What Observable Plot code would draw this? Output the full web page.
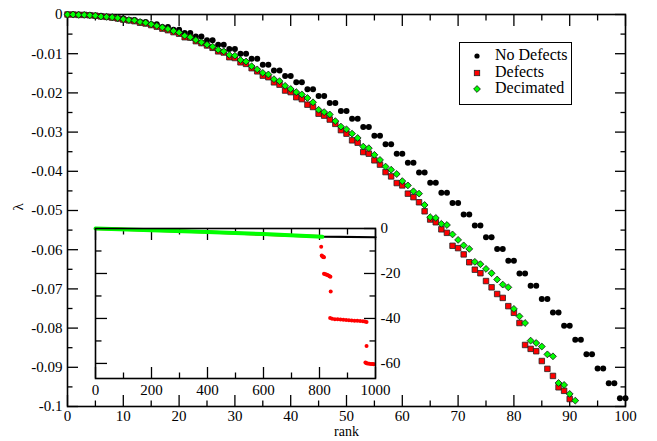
<!DOCTYPE html>
<html><head><meta charset="utf-8">
<script src="https://cdn.jsdelivr.net/npm/d3@7"></script>
<script src="https://cdn.jsdelivr.net/npm/@observablehq/plot@0.6"></script>
<style>
html,body{margin:0;padding:0;background:#fff;}
#wrap{position:relative;width:657px;height:441px;font-family:"Liberation Serif","DejaVu Serif","Times New Roman",serif;}
#main{position:absolute;left:0;top:0;}
#inset{position:absolute;left:80px;top:213px;}
#legend{position:absolute;left:459px;top:42px;width:113px;height:63px;border:1.2px solid #000;background:#fff;box-sizing:border-box;}
.lrow{position:absolute;left:0;height:16px;line-height:16px;font-size:16px;white-space:nowrap;}
.lrow svg{position:absolute;left:11px;top:3px;}
.lrow span{position:absolute;left:35px;top:0;}
svg text{font-family:"Liberation Serif","DejaVu Serif","Times New Roman",serif !important;}
</style></head><body>
<div id="wrap"><div id="main"></div><div id="inset"></div><div id="legend"></div></div>
<script>
// ---------- main chart data (rank starts at 0) ----------
const noDefects = [0,
  0, 0, -0.0001, -0.0001, -0.0003, -0.0003, -0.0006, -0.0006, -0.0010, -0.0010,
  -0.0014, -0.0014, -0.0019, -0.0019, -0.0025, -0.0025, -0.0032, -0.0032, -0.0039, -0.0039,
  -0.0047, -0.0047, -0.0056, -0.0056, -0.0066, -0.0066, -0.0077, -0.0077, -0.0088, -0.0088,
  -0.0100, -0.0100, -0.0113, -0.0113, -0.0128, -0.0128, -0.0143, -0.0143, -0.0157, -0.0157,
  -0.0173, -0.0173, -0.0191, -0.0191, -0.0208, -0.0208, -0.0226, -0.0226, -0.0246, -0.0246,
  -0.0266, -0.0266, -0.0287, -0.0287, -0.0309, -0.0309, -0.0331, -0.0331, -0.0355, -0.0355,
  -0.0378, -0.0378, -0.0403, -0.0403, -0.0429, -0.0429, -0.0455, -0.0455, -0.0481, -0.0481,
  -0.0510, -0.0510, -0.0538, -0.0538, -0.0568, -0.0568, -0.0598, -0.0598, -0.0628, -0.0628,
  -0.0661, -0.0661, -0.0692, -0.0692, -0.0726, -0.0726, -0.0760, -0.0760, -0.0794, -0.0794,
  -0.0830, -0.0830, -0.0867, -0.0867, -0.0903, -0.0903, -0.0941, -0.0941, -0.0979, -0.0979];

const defects = [0,
  0, -0.0001, -0.0001, -0.0002, -0.0003, -0.0005, -0.0006, -0.0008, -0.0010, -0.0013,
  -0.0015, -0.0017, -0.0021, -0.0023, -0.0027, -0.0031, -0.0036, -0.0040, -0.0045, -0.0049,
  -0.0058, -0.0059, -0.0068, -0.0073, -0.0079, -0.0085, -0.0094, -0.0097, -0.0109, -0.0111,
  -0.0122, -0.0126, -0.0137, -0.0145, -0.0156, -0.0160, -0.0173, -0.0179, -0.0194, -0.0198,
  -0.0211, -0.0216, -0.0230, -0.0236, -0.0253, -0.0258, -0.0268, -0.0279, -0.0295, -0.0304,
  -0.0321, -0.0327, -0.0351, -0.0355, -0.0372, -0.0383, -0.0402, -0.0413, -0.0430, -0.0436,
  -0.0457, -0.0466, -0.0479, -0.0502, -0.0523, -0.0530, -0.0548, -0.0557, -0.0590, -0.0596,
  -0.0612, -0.0632, -0.0651, -0.0660, -0.0680, -0.0696, -0.0713, -0.0723, -0.0744, -0.0761,
  -0.0787, -0.0843, -0.0853, -0.0859, -0.0884, -0.0904, -0.0922, -0.0951, -0.0960, -0.0981];

const decimated = [0,
  0, -0.0001, -0.0001, -0.0002, -0.0003, -0.0005, -0.0006, -0.0007, -0.0009, -0.0012,
  -0.0014, -0.0015, -0.0019, -0.0021, -0.0025, -0.0029, -0.0033, -0.0037, -0.0042, -0.0046,
  -0.0054, -0.0058, -0.0065, -0.0071, -0.0077, -0.0082, -0.0090, -0.0094, -0.0103, -0.0105,
  -0.0116, -0.0120, -0.0132, -0.0140, -0.0149, -0.0153, -0.0165, -0.0170, -0.0182, -0.0190,
  -0.0198, -0.0204, -0.0213, -0.0224, -0.0243, -0.0249, -0.0255, -0.0272, -0.0286, -0.0293,
  -0.0304, -0.0315, -0.0337, -0.0341, -0.0358, -0.0371, -0.0388, -0.0396, -0.0407, -0.0425,
  -0.0436, -0.0451, -0.0457, -0.0486, -0.0517, -0.0519, -0.0534, -0.0537, -0.0561, -0.0575,
  -0.0589, -0.0598, -0.0631, -0.0637, -0.0649, -0.0660, -0.0676, -0.0689, -0.0696, -0.0751,
  -0.0770, -0.0787, -0.0832, -0.0838, -0.0847, -0.0867, -0.0872, -0.0940, -0.0945, -0.0968,
  -0.0985];

// ---------- main chart ticks ----------
const xMajor = [0, 10, 20, 30, 40, 50, 60, 70, 80, 90, 100];
const xTickLabels = ["0", "10", "20", "30", "40", "50", "60", "70", "80", "90", "100"];
const xMinor = [5, 15, 25, 35, 45, 55, 65, 75, 85, 95];
const yMajor = [0, -0.01, -0.02, -0.03, -0.04, -0.05, -0.06, -0.07, -0.08, -0.09, -0.1];
const yTickLabels = ["0", "-0.01", "-0.02", "-0.03", "-0.04", "-0.05", "-0.06", "-0.07", "-0.08", "-0.09", "-0.1"];
const yMinor = [-0.005, -0.015, -0.025, -0.035, -0.045, -0.055, -0.065, -0.075, -0.085, -0.095];

// ---------- inset data (rank 0..1000) ----------
const insetNoDefRank = [0, 400, 810, 1000];
const insetNoDefVal = [0, -1.5, -3.6, -3.9];
const insetDefLineRank = [0, 400, 800];
const insetDefLineVal = [0, -1.6, -3.6];
const insetDefPtRank = [806, 808, 810, 812, 814, 816,
  816, 820, 824, 828, 832, 836, 839,
  840,
  838, 845, 855, 865, 875, 885, 895, 905, 915, 925, 935, 945, 955, 962, 968,
  968,
  964, 968, 972, 978, 984, 990, 994];
const insetDefPtVal = [-8.1, -12.0, -12.3, -12.6, -12.7, -12.8,
  -20.1, -20.3, -20.5, -20.7, -20.9, -21.2, -21.5,
  -28.0,
  -39.8, -40.1, -40.3, -40.4, -40.5, -40.6, -40.7, -40.8, -40.9, -41.0, -41.0, -41.1, -41.2, -41.4, -41.6,
  -52.3,
  -59.6, -59.9, -60.0, -60.1, -60.2, -60.3, -60.4];
const insetDecRank = [0, 200, 400, 600, 810];
const insetDecVal = [0, -0.8, -1.6, -2.5, -3.7];

const insetXMajor = [0, 200, 400, 600, 800, 1000];
const insetXLabels = ["0", "200", "400", "600", "800", "1000"];
const insetXMinor = [100, 300, 500, 700, 900];
const insetYMajor = [0, -20, -40, -60];
const insetYLabels = ["0", "-20", "-40", "-60"];
const insetYMinor = [-10, -30, -50];

// ---------- legend ----------
const seriesNames = ["No Defects", "Defects", "Decimated"];
const seriesFill = ["#000000", "#ff0000", "#00ff00"];

const serif = '"Liberation Serif", "DejaVu Serif", "Times New Roman", serif';
const toRows = (vals) => vals.map((v, i) => ({rank: i, value: v}));
const pair = (xs, ys) => xs.map((x, i) => ({x, y: ys[i]}));
const lab = (vals, labels) => (d) => labels[vals.indexOf(d)];
const blank = () => "";

const TW = 1.3;
const mainPlot = Plot.plot({
  width: 657, height: 441,
  marginLeft: 67, marginRight: 32, marginTop: 14, marginBottom: 35,
  style: {fontFamily: serif, fontSize: "15px", background: "transparent", overflow: "visible", color: "black"},
  x: {domain: [0, 100]},
  y: {domain: [-0.1, 0]},
  marks: [
    Plot.axisX({anchor: "bottom", ticks: xMajor, tickSize: -11, tickPadding: 15, tickFormat: lab(xMajor, xTickLabels), label: null, strokeWidth: TW, fontSize: 15}),
    Plot.axisX({anchor: "bottom", ticks: xMinor, tickSize: -5.5, tickFormat: blank, label: null, strokeWidth: TW}),
    Plot.axisX({anchor: "top", ticks: xMajor, tickSize: -11, tickFormat: blank, label: null, strokeWidth: TW}),
    Plot.axisX({anchor: "top", ticks: xMinor, tickSize: -5.5, tickFormat: blank, label: null, strokeWidth: TW}),
    Plot.axisY({anchor: "left", ticks: yMajor, tickSize: -11, tickPadding: 16, tickFormat: lab(yMajor, yTickLabels), label: null, strokeWidth: TW, fontSize: 15}),
    Plot.axisY({anchor: "left", ticks: yMinor, tickSize: -5.5, tickFormat: blank, label: null, strokeWidth: TW}),
    Plot.axisY({anchor: "right", ticks: yMajor, tickSize: -11, tickFormat: blank, label: null, strokeWidth: TW}),
    Plot.axisY({anchor: "right", ticks: yMinor, tickSize: -5.5, tickFormat: blank, label: null, strokeWidth: TW}),
    Plot.frame({stroke: "black", strokeWidth: 1.6}),
    Plot.dot(toRows(noDefects), {x: "rank", y: "value", r: 3, fill: seriesFill[0]}),
    Plot.dot(toRows(defects), {x: "rank", y: "value", symbol: "square", r: 3.1, fill: seriesFill[1], stroke: "#222", strokeWidth: 0.8}),
    Plot.dot(toRows(decimated), {x: "rank", y: "value", symbol: "diamond2", r: 3.1, fill: seriesFill[2], stroke: "#111", strokeWidth: 0.8}),
    Plot.text(["rank"], {frameAnchor: "bottom", dy: 29, text: d => d, fontSize: 14}),
    Plot.text(["λ"], {frameAnchor: "left", dx: -49, rotate: -90, text: d => d, fontSize: 15})
  ]
});
document.getElementById("main").appendChild(mainPlot);

const insetPlot = Plot.plot({
  width: 330, height: 190,
  marginLeft: 15, marginRight: 35, marginTop: 15, marginBottom: 25,
  style: {fontFamily: serif, fontSize: "15px", background: "transparent", overflow: "visible", color: "black"},
  x: {domain: [0, 1000]},
  y: {domain: [-66.7, 0]},
  marks: [
    Plot.frame({fill: "white"}),
    Plot.axisX({anchor: "bottom", ticks: insetXMajor, tickSize: -11, tickPadding: 17, tickFormat: lab(insetXMajor, insetXLabels), label: null, strokeWidth: TW, fontSize: 15}),
    Plot.axisX({anchor: "bottom", ticks: insetXMinor, tickSize: -5.5, tickFormat: blank, label: null, strokeWidth: TW}),
    Plot.axisX({anchor: "top", ticks: insetXMajor, tickSize: -11, tickFormat: blank, label: null, strokeWidth: TW}),
    Plot.axisX({anchor: "top", ticks: insetXMinor, tickSize: -5.5, tickFormat: blank, label: null, strokeWidth: TW}),
    Plot.axisY({anchor: "left", ticks: insetYMajor, tickSize: -12, tickFormat: blank, label: null, strokeWidth: TW}),
    Plot.axisY({anchor: "left", ticks: insetYMinor, tickSize: -6.5, tickFormat: blank, label: null, strokeWidth: TW}),
    Plot.axisY({anchor: "right", ticks: insetYMajor, tickSize: -12, tickPadding: 17, tickFormat: lab(insetYMajor, insetYLabels), label: null, strokeWidth: TW, fontSize: 15}),
    Plot.axisY({anchor: "right", ticks: insetYMinor, tickSize: -6.5, tickFormat: blank, label: null, strokeWidth: TW}),
    Plot.line(pair(insetNoDefRank, insetNoDefVal), {x: "x", y: "y", stroke: "black", strokeWidth: 2.2}),
    Plot.line(pair(insetDefLineRank, insetDefLineVal), {x: "x", y: "y", stroke: "#ff0000", strokeWidth: 3}),
    Plot.dot(pair(insetDefPtRank, insetDefPtVal), {x: "x", y: "y", r: 2, fill: "#ff0000"}),
    Plot.line(pair(insetDecRank, insetDecVal), {x: "x", y: "y", stroke: "#00ff00", strokeWidth: 4}),
    Plot.frame({stroke: "black", strokeWidth: 1.6})
  ]
});
document.getElementById("inset").appendChild(insetPlot);

// legend
const legend = document.getElementById("legend");
const symbols = [
  '<svg width="12" height="12"><circle cx="6" cy="6" r="2.6" fill="#000"/></svg>',
  '<svg width="12" height="12"><rect x="3.3" y="3.3" width="5.4" height="5.4" fill="#ff0000" stroke="#222" stroke-width="0.8"/></svg>',
  '<svg width="12" height="12"><path d="M6,2.6L9.4,6L6,9.4L2.6,6Z" fill="#00ff00" stroke="#111" stroke-width="0.8"/></svg>'
];
seriesNames.forEach((name, i) => {
  const row = document.createElement("div");
  row.className = "lrow";
  row.style.top = (4 + i * 16.5) + "px";
  row.innerHTML = symbols[i] + "<span>" + name + "</span>";
  legend.appendChild(row);
});
</script>
</body></html>
